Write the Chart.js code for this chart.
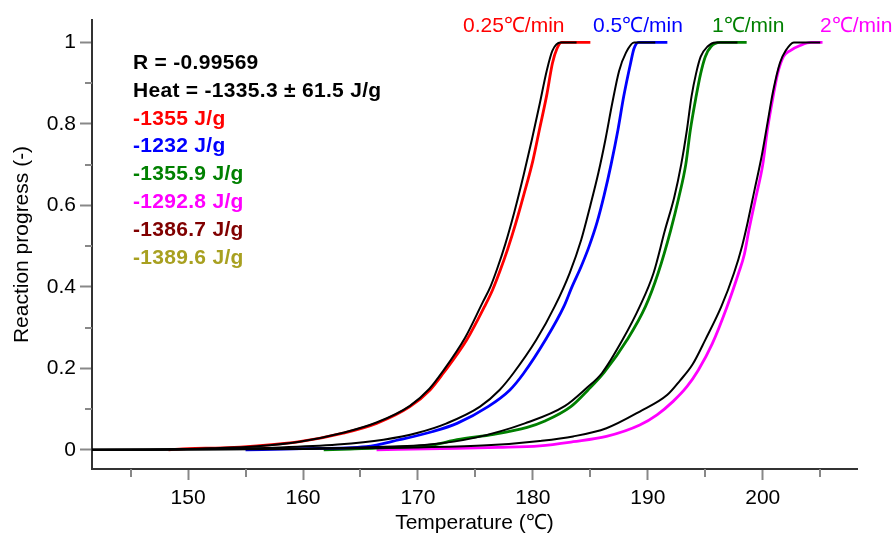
<!DOCTYPE html>
<html>
<head>
<meta charset="utf-8">
<script src="https://cdn.jsdelivr.net/npm/chart.js@4"></script>
<style>
  html, body { margin: 0; padding: 0; background: #fff; }
  canvas { display: block; }
</style>
</head>
<body>
<canvas id="kineticsChart" width="896" height="540"></canvas>
<script>
var redTemp = [148.3, 150, 153, 156, 159.7, 163.5, 166.4, 169.3, 171.05, 172.2, 174.25, 175.8, 176.5, 177.15, 177.8, 178.5, 179.2, 180.0, 180.6, 181.2, 181.7, 182.1, 182.5, 185.0];
var redProg = [0, 0.003, 0.005, 0.01, 0.02, 0.041, 0.065, 0.106, 0.147, 0.188, 0.27, 0.352, 0.393, 0.44, 0.492, 0.555, 0.625, 0.71, 0.79, 0.87, 0.949, 0.985, 1.0, 1.0];

var blueTemp = [155, 160, 165.5, 168.4, 171.3, 173.4, 176.1, 178.0, 179.2, 181.1, 182.7, 183.4, 184.2, 184.9, 185.6, 186.2, 186.8, 187.4, 187.9, 188.5, 188.8, 189.2, 191.7];
var blueProg = [0, 0.003, 0.008, 0.025, 0.045, 0.065, 0.106, 0.147, 0.188, 0.27, 0.352, 0.40, 0.45, 0.50, 0.56, 0.625, 0.70, 0.785, 0.867, 0.949, 0.985, 1.0, 1.0];

var greenTemp = [161.8, 164.1, 168, 171.3, 173.4, 176.6, 179.5, 181.0, 183.3, 184.8, 186.2, 188.2, 189.8, 190.9, 192.0, 192.7, 193.3, 193.7, 194.2, 194.6, 195.0, 195.5, 196.3, 198.6];
var greenProg = [0, 0.002, 0.006, 0.012, 0.025, 0.038, 0.055, 0.07, 0.106, 0.147, 0.19, 0.27, 0.352, 0.434, 0.54, 0.62, 0.70, 0.785, 0.867, 0.924, 0.965, 0.99, 1.0, 1.0];

var magentaTemp = [166.4, 172, 177, 180.6, 183.5, 186.4, 189.3, 190.8, 192.2, 193.4, 194.4, 195.6, 196.9, 197.9, 198.4, 198.8, 199.4, 200.0, 200.4, 200.9, 201.3, 201.8, 202.4, 203.3, 204.2, 205.2];
var magentaProg = [0, 0.003, 0.006, 0.01, 0.02, 0.033, 0.061, 0.086, 0.119, 0.155, 0.196, 0.26, 0.352, 0.434, 0.48, 0.54, 0.62, 0.70, 0.785, 0.867, 0.924, 0.965, 0.98, 0.993, 1.0, 1.0];

// model (black) curves, one per heating rate
var redFitTemp = [141.6, 148, 152, 156, 159.7, 163.5, 166.4, 169.3, 171.0, 172.1, 174.1, 175.6, 176.3, 176.9, 177.6, 178.4, 179.2, 179.9, 180.6, 181.2, 181.7, 182.4, 183.8];
var redFitProg = [0, 0.001, 0.004, 0.009, 0.02, 0.042, 0.067, 0.108, 0.15, 0.19, 0.275, 0.36, 0.40, 0.445, 0.505, 0.585, 0.675, 0.76, 0.85, 0.93, 0.98, 1.0, 1.0];

var blueFitTemp = [141.6, 150, 158, 163, 167.0, 170, 172.5, 175.4, 177.1, 178.3, 180.3, 181.9, 183.2, 184.2, 185.0, 185.7, 186.3, 186.9, 187.5, 188.1, 188.8, 190.65];
var blueFitProg = [0, 0.002, 0.006, 0.013, 0.025, 0.042, 0.065, 0.106, 0.147, 0.188, 0.27, 0.352, 0.434, 0.515, 0.60, 0.68, 0.76, 0.85, 0.93, 0.975, 1.0, 1.0];

var greenFitTemp = [141.6, 155, 165, 171, 175, 179.3, 182.8, 184.6, 186.0, 187.8, 189.3, 190.5, 191.5, 192.3, 192.9, 193.4, 193.8, 194.2, 194.6, 195.2, 195.9, 197.8];
var greenFitProg = [0, 0.002, 0.006, 0.013, 0.03, 0.065, 0.108, 0.15, 0.188, 0.27, 0.352, 0.434, 0.54, 0.62, 0.70, 0.785, 0.867, 0.924, 0.965, 0.99, 1.0, 1.0];

var magentaFitTemp = [141.6, 160, 170, 176, 180.6, 183.5, 186.4, 189.3, 191.7, 192.8, 193.9, 195.0, 196.4, 197.5, 198.2, 198.7, 199.3, 199.9, 200.4, 200.9, 201.5, 202.0, 202.7, 205.0];
var magentaFitProg = [0, 0.002, 0.006, 0.011, 0.022, 0.033, 0.053, 0.094, 0.135, 0.17, 0.21, 0.27, 0.352, 0.434, 0.50, 0.56, 0.64, 0.72, 0.80, 0.88, 0.95, 0.98, 1.0, 1.0];

// ticks
var xTicks = [150, 160, 170, 180, 190, 200];
var xTickLabels = ['150', '160', '170', '180', '190', '200'];
var xMinorTicks = [145, 155, 165, 175, 185, 195, 205];
var yTicks = [0, 0.2, 0.4, 0.6, 0.8, 1];
var yTickLabels = ['0', '0.2', '0.4', '0.6', '0.8', '1'];
var yMinorTicks = [0.1, 0.3, 0.5, 0.7, 0.9];

// texts
var rateLabels = ['0.25\u2103/min', '0.5\u2103/min', '1\u2103/min', '2\u2103/min'];
var rateColors = ['#ff0000', '#0000ff', '#008000', '#ff00ff'];
var heatLines = ['R = -0.99569', 'Heat = -1335.3 \u00b1 61.5 J/g', '-1355 J/g', '-1232 J/g', '-1355.9 J/g', '-1292.8 J/g', '-1386.7 J/g', '-1389.6 J/g'];
var heatColors = ['#000000', '#000000', '#ff0000', '#0000ff', '#008000', '#ff00ff', '#800000', '#a8a020'];

var FONT = "'Liberation Sans', Arial, Helvetica, sans-serif";

function toPoints(xs, ys) {
    return xs.map(function (x, i) { return { x: x, y: ys[i] }; });
}

function dataLine(xs, ys, color) {
    return {
        data: toPoints(xs, ys),
        borderColor: color,
        backgroundColor: color,
        borderWidth: 2.8,
        pointRadius: 0,
        showLine: true,
        cubicInterpolationMode: 'monotone',
        order: 2
    };
}

function fitLine(xs, ys) {
    return {
        data: toPoints(xs, ys),
        borderColor: '#000000',
        backgroundColor: '#000000',
        borderWidth: 2,
        pointRadius: 0,
        showLine: true,
        cubicInterpolationMode: 'monotone',
        order: 1
    };
}

// minor ticks + text annotations
var extrasPlugin = {
    id: 'extras',
    afterDraw: function (chart) {
        var ctx = chart.ctx;
        var xs = chart.scales.x;
        var ys = chart.scales.y;
        ctx.save();
        ctx.strokeStyle = '#888888';
        ctx.lineWidth = 2;
        xMinorTicks.forEach(function (v) {
            var px = Math.round(xs.getPixelForValue(v));
            ctx.beginPath();
            ctx.moveTo(px, xs.top);
            ctx.lineTo(px, xs.top + 8);
            ctx.stroke();
        });
        yMinorTicks.forEach(function (v) {
            var py = Math.round(ys.getPixelForValue(v));
            ctx.beginPath();
            ctx.moveTo(ys.right, py);
            ctx.lineTo(ys.right - 7, py);
            ctx.stroke();
        });

        ctx.textAlign = 'left';
        ctx.textBaseline = 'alphabetic';
        ctx.font = 'bold 21px ' + FONT;
        ctx.letterSpacing = '0.3px';
        heatLines.forEach(function (t, i) {
            ctx.fillStyle = heatColors[i];
            ctx.fillText(t, 133, 69 + i * 27.8);
        });

        ctx.font = '21px ' + FONT;
        ctx.letterSpacing = '0px';
        var rateX = [463, 593, 712, 820];
        rateLabels.forEach(function (t, i) {
            ctx.fillStyle = rateColors[i];
            ctx.fillText(t, rateX[i], 32);
        });
        ctx.restore();
    }
};

var ctx = document.getElementById('kineticsChart').getContext('2d');
var kineticsChart = new Chart(ctx, {
    type: 'scatter',
    data: {
        datasets: [
            dataLine(redTemp, redProg, '#ff0000'),
            dataLine(blueTemp, blueProg, '#0000ff'),
            dataLine(greenTemp, greenProg, '#008000'),
            dataLine(magentaTemp, magentaProg, '#ff00ff'),
            fitLine(redFitTemp, redFitProg),
            fitLine(blueFitTemp, blueFitProg),
            fitLine(greenFitTemp, greenFitProg),
            fitLine(magentaFitTemp, magentaFitProg)
        ]
    },
    options: {
        responsive: false,
        animation: false,
        layout: { padding: { top: 20, right: 39, left: 0, bottom: 0 } },
        plugins: {
            legend: { display: false },
            tooltip: { enabled: false }
        },
        scales: {
            x: {
                type: 'linear',
                min: 141.64,
                max: 208.2,
                afterFit: function (scale) { scale.height = 71; },
                afterBuildTicks: function (scale) {
                    scale.ticks = xTicks.map(function (v) { return { value: v }; });
                },
                ticks: {
                    color: '#000',
                    font: { family: FONT, size: 21 },
                    padding: 6,
                    maxRotation: 0,
                    callback: function (v, i) { return xTickLabels[i]; }
                },
                grid: {
                    drawOnChartArea: false,
                    drawTicks: true,
                    tickLength: 11,
                    tickColor: '#888888',
                    tickWidth: 2
                },
                border: { color: '#333333', width: 2 },
                title: {
                    display: true,
                    text: 'Temperature (\u2103)',
                    color: '#000',
                    font: { family: FONT, size: 21 },
                    padding: { top: 0, bottom: 4 }
                }
            },
            y: {
                type: 'linear',
                min: -0.047,
                max: 1.055,
                afterFit: function (scale) { scale.width = 92; },
                afterBuildTicks: function (scale) {
                    scale.ticks = yTicks.map(function (v) { return { value: v }; });
                },
                ticks: {
                    color: '#000',
                    font: { family: FONT, size: 21 },
                    padding: 4,
                    callback: function (v, i) { return yTickLabels[i]; }
                },
                grid: {
                    drawOnChartArea: false,
                    drawTicks: true,
                    tickLength: 12,
                    tickColor: '#888888',
                    tickWidth: 2
                },
                border: { color: '#333333', width: 2 },
                title: {
                    display: true,
                    text: 'Reaction progress (-)',
                    color: '#000',
                    font: { family: FONT, size: 21 },
                    padding: { top: 10, bottom: 0 }
                }
            }
        }
    },
    plugins: [extrasPlugin]
});
</script>
</body>
</html>
